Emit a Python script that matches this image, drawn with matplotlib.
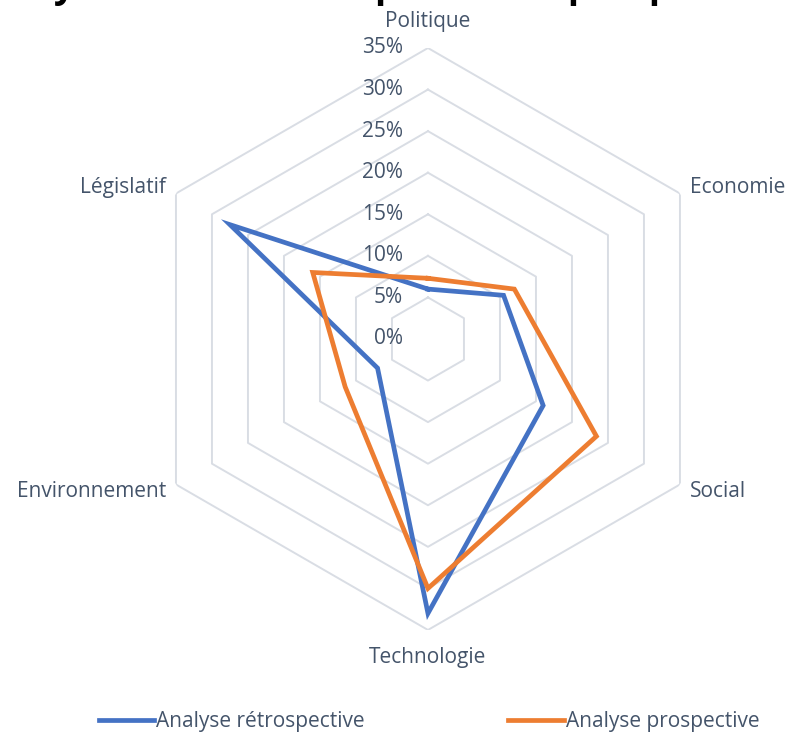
import numpy as np
import matplotlib
matplotlib.use("Agg")
import matplotlib.pyplot as plt

plt.rcParams['font.family'] = ['Open Sans', 'DejaVu Sans']

# categories clockwise from the top
categories = ["Politique", "Economie", "Social", "Technologie", "Environnement", "Législatif"]
retro = [6.0, 10.5, 16.0, 33.0, 7.0, 27.5]
prosp = [7.3, 12.0, 23.4, 30.0, 11.5, 16.0]
levels = [5, 10, 15, 20, 25, 30, 35]
level_labels = ["0%", "5%", "10%", "15%", "20%", "25%", "30%", "35%"]
title = "Analyse PESTEL rétrospective et prospective"

txt_col = "#44546a"
grid_col = "#d9dde4"
blue = "#4472c4"
orange = "#ed7d31"
fs = 15

fig = plt.figure(figsize=(7.89, 7.35), dpi=100)
ax = fig.add_axes([0.1736, 0.1429, 0.7376, 0.7918], projection="polar")
ax.set_theta_offset(np.pi / 2)
ax.set_theta_direction(-1)

n = len(categories)
theta = np.linspace(0, 2 * np.pi, n, endpoint=False)
theta_c = np.append(theta, theta[0])

# hexagonal grid rings
for lv in levels:
    ax.plot(theta_c, [lv] * (n + 1), color=grid_col, lw=1.4, zorder=1)

l1, = ax.plot(theta_c, retro + retro[:1], color=blue, lw=3.4, zorder=3,
              solid_joinstyle="miter", label="Analyse rétrospective")
l2, = ax.plot(theta_c, prosp + prosp[:1], color=orange, lw=3.4, zorder=3,
              solid_joinstyle="miter", label="Analyse prospective")

ax.set_ylim(0, 35)
ax.grid(False)
ax.spines["polar"].set_visible(False)
ax.set_xticks([])
ax.set_yticks([])

# radial value labels
for i, lab in enumerate(level_labels):
    ax.annotate(lab, xy=(0, i * 5), xytext=(-18, 0), textcoords="offset points",
                ha="right", va="center", fontsize=fs, color=txt_col, zorder=4)

# category labels
offsets = [(0, 19, "center", "center"), (7, 4, "left", "center"),
           (7, -5, "left", "center"), (0, -20, "center", "center"),
           (-7, -5, "right", "center"), (-7, 4, "right", "center")]
for t, lab, (dx, dy, ha, va) in zip(theta, categories, offsets):
    ax.annotate(lab, xy=(t, 35), xytext=(dx, dy), textcoords="offset points",
                ha=ha, va=va, fontsize=fs, color=txt_col, annotation_clip=False)

fig.legend(handles=[l1, l2], loc="center", bbox_to_anchor=(429 / 789, 13 / 735),
           ncol=2, frameon=False, fontsize=fs, handlelength=2.65,
           handletextpad=0.1, columnspacing=6.9, labelcolor=txt_col)

# title: too wide for the figure and cut by the top edge in the original,
# only its descenders show
tt = fig.text(-30 / 789, 1 - 6 / 735, title, ha="left", va="bottom",
              fontsize=30, fontweight="bold", color="black")
r = fig.canvas.get_renderer()
w = tt.get_window_extent(r).width
tt.set_fontsize(30 * 815 / w)

fig.savefig("out.png", dpi=100)
